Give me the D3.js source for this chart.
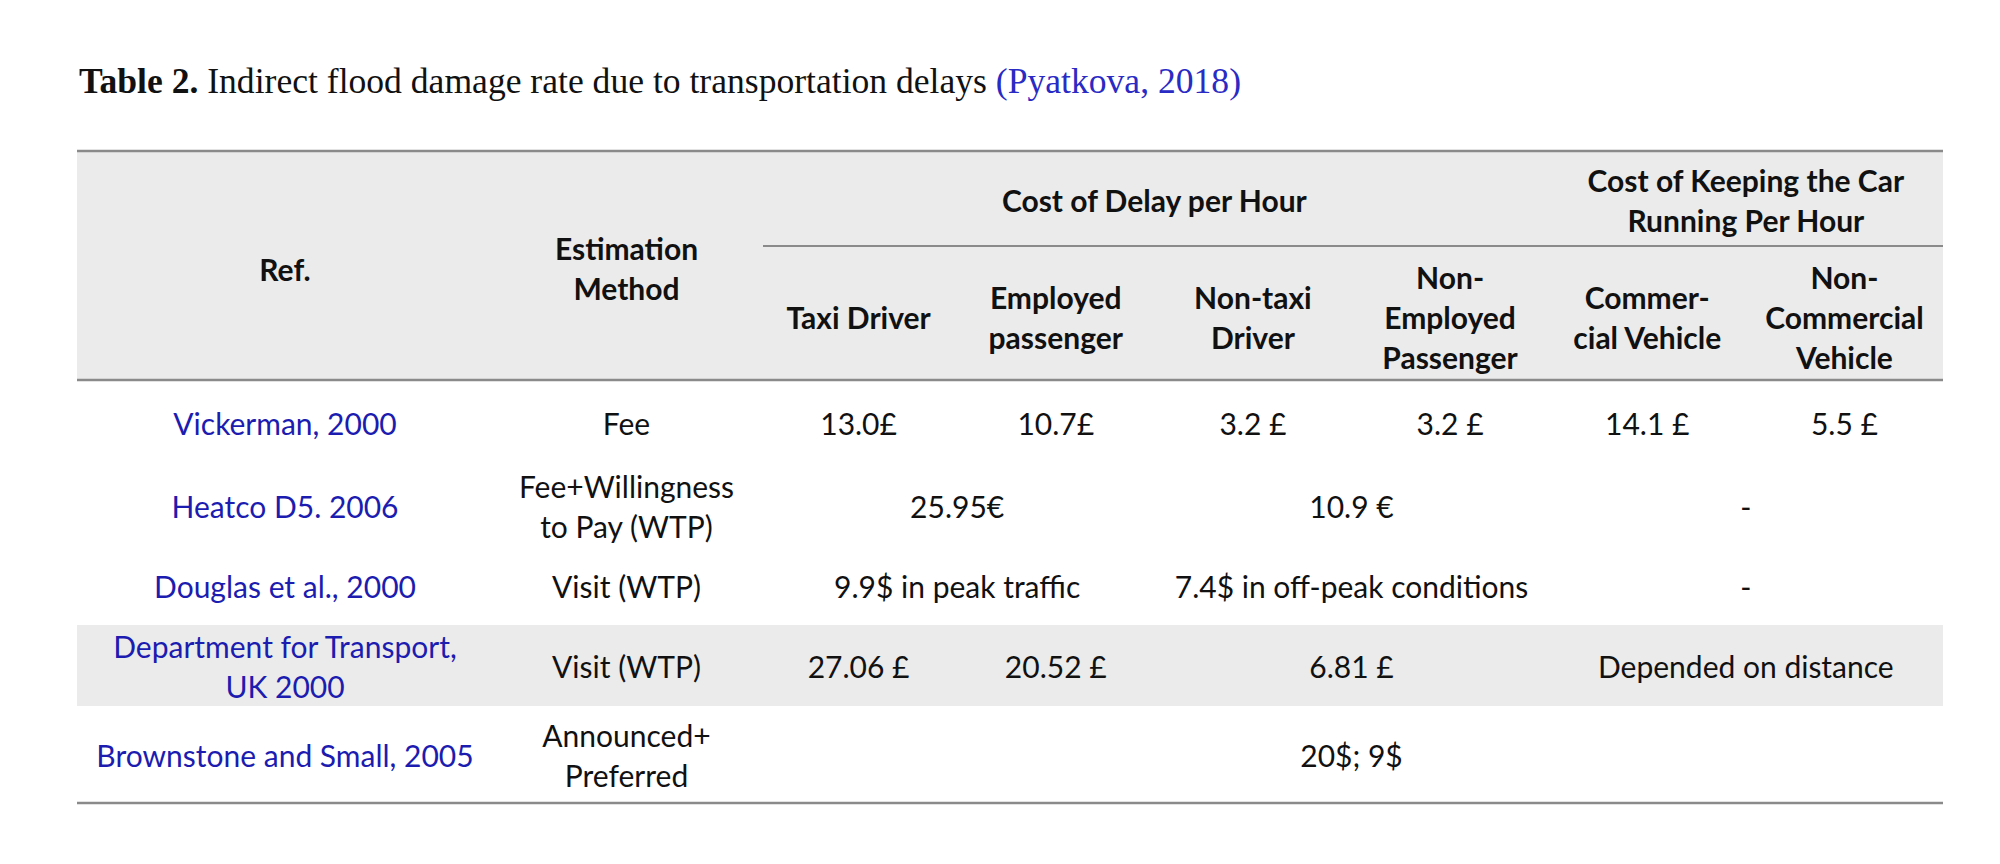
<!DOCTYPE html>
<meta charset="utf-8">
<style>
body { margin: 0; background: #fff; }
text { font-family: Lato, "Open Sans", sans-serif; font-size: 30px; fill: #111; }
.title { font-family: "Liberation Serif", "Times New Roman", serif; font-size: 35px; }
.head { font-weight: bold; }
.ref { fill: #1c1cb0; }
.cite { fill: #2a2ac4; }
</style>
<svg width="2000" height="864"></svg>
<script src="https://d3js.org/d3.v7.min.js"></script>
<script>

// data
var groupHeads = [["Cost of Delay per Hour"], ["Cost of Keeping the Car", "Running Per Hour"]],
    groupSpans = [4, 2],
    leafHeads = [["Taxi Driver"], ["Employed", "passenger"], ["Non-taxi", "Driver"],
                 ["Non-", "Employed", "Passenger"], ["Commer-", "cial Vehicle"], ["Non-", "Commercial", "Vehicle"]];

var refs = [["Vickerman, 2000"], ["Heatco D5. 2006"], ["Douglas et al., 2000"],
            ["Department for Transport,", "UK 2000"], ["Brownstone and Small, 2005"]];

var methods = [["Fee"], ["Fee+Willingness", "to Pay (WTP)"], ["Visit (WTP)"], ["Visit (WTP)"],
               ["Announced+", "Preferred"]];

// each cell: [text, columns spanned]
var vickerman = [["13.0£", 1], ["10.7£", 1], ["3.2 £", 1], ["3.2 £", 1], ["14.1 £", 1], ["5.5 £", 1]],
    heatco = [["25.95€", 2], ["10.9 €", 2], ["-", 2]],
    douglas = [["9.9$ in peak traffic", 2], ["7.4$ in off-peak conditions", 2], ["-", 2]],
    dft = [["27.06 £", 1], ["20.52 £", 1], ["6.81 £", 2], ["Depended on distance", 2]],
    brownstone = [["20$; 9$", 6]];

var rowCells = [vickerman, heatco, douglas, dft, brownstone];
var shaded = [false, false, false, true, false];

// layout
var left = 77, right = 1943,
    refEdge = 493, methodEdge = 760,
    yTop = 151, ySub = 246, yHead = 380,
    rowEdges = [380, 464, 546, 625, 706, 803],
    lineH = 40;

var svg = d3.select("svg");

var x = d3.scaleLinear().domain([0, 6]).range([methodEdge, right]);

// multi-line centered text
function label(g, lines, cx, cy, cls) {
  var t = g.append("text")
      .attr("class", cls || null)
      .attr("text-anchor", "middle");
  lines.forEach(function(l, i) {
    t.append("tspan")
        .attr("x", cx)
        .attr("y", cy + (i - (lines.length - 1) / 2) * lineH)
        .attr("dy", "0.36em")
        .text(l);
  });
  return t;
}

// title
var title = svg.append("text")
    .attr("class", "title")
    .attr("x", 79)
    .attr("y", 93);
title.append("tspan").attr("font-weight", "bold").text("Table 2.");
title.append("tspan").text(" Indirect flood damage rate due to transportation delays ");
title.append("tspan").attr("class", "cite").text("(Pyatkova, 2018)");
var tw = title.node().getComputedTextLength();
if (Math.abs(tw - 1162) > 4) title.attr("textLength", 1162).attr("lengthAdjust", "spacingAndGlyphs");

// backgrounds
svg.append("rect")
    .attr("x", left).attr("y", yTop)
    .attr("width", right - left).attr("height", yHead - yTop)
    .attr("fill", "#ebebeb");

svg.selectAll(".band")
  .data(shaded)
  .join("rect")
    .filter(function(d) { return d; })
    .attr("x", left)
    .attr("y", function(d, i) { return rowEdges[shaded.indexOf(true)]; })
    .attr("width", right - left)
    .attr("height", function() { var k = shaded.indexOf(true); return rowEdges[k + 1] - rowEdges[k]; })
    .attr("fill", "#ebebeb");

// header text
var gh = svg.append("g").attr("class", "head");
label(gh, ["Ref."], (left + refEdge) / 2, (yTop + yHead) / 2 + 5);
label(gh, ["Estimation", "Method"], (refEdge + methodEdge) / 2, (yTop + yHead) / 2 + 4);

var c0 = 0;
groupHeads.forEach(function(h, i) {
  label(gh, h, (x(c0) + x(c0 + groupSpans[i])) / 2, (yTop + ySub) / 2 + 3);
  c0 += groupSpans[i];
});

leafHeads.forEach(function(h, i) {
  label(gh, h, (x(i) + x(i + 1)) / 2, (ySub + yHead) / 2 + 5);
});

// body
var gb = svg.append("g");
rowCells.forEach(function(cells, r) {
  var cy = (rowEdges[r] + rowEdges[r + 1]) / 2 + 2;
  label(gb, refs[r], (left + refEdge) / 2, cy, "ref");
  label(gb, methods[r], (refEdge + methodEdge) / 2, cy);
  var c = 0;
  cells.forEach(function(cell) {
    label(gb, [cell[0]], (x(c) + x(c + cell[1])) / 2, cy);
    c += cell[1];
  });
});

// rules
var rules = [[left, yTop], [left, yHead], [left, rowEdges[rowEdges.length - 1]], [x(0) + 3, ySub]];
svg.selectAll(".rule")
  .data(rules)
  .join("line")
    .attr("x1", function(d) { return d[0]; })
    .attr("x2", right)
    .attr("y1", function(d) { return d[1]; })
    .attr("y2", function(d) { return d[1]; })
    .attr("stroke", "#8a8a8a")
    .attr("stroke-width", function(d, i) { return i < 3 ? 2.6 : 2; });

</script>
